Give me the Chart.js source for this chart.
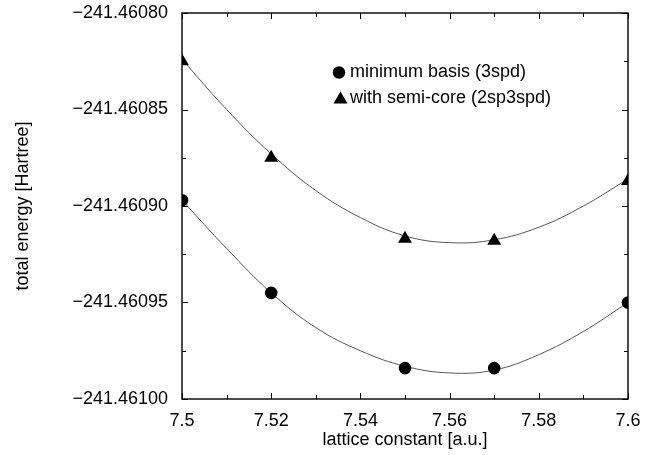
<!DOCTYPE html>
<html lang="en">
<head>
  <meta charset="UTF-8">
  <title>total energy vs lattice constant</title>
  <script src="https://cdn.jsdelivr.net/npm/chart.js"></script>
  <style>
    body { margin: 0; background: #fff; }
    #wrap { width: 665px; height: 455px; }
  </style>
</head>
<body>
  <div id="wrap"><canvas id="chart" width="665" height="455"></canvas></div>

  <script>
    // lattice constants of the calculated points
    const latticeX = [7.5, 7.52, 7.55, 7.57, 7.6];
    const minimumBasis = [-241.460897, -241.460945, -241.460984, -241.460984, -241.460950];
    const semiCore = [-241.460825, -241.460875, -241.460917, -241.460918, -241.460887];

    // fitted curves
    const fitX = [7.5, 7.51, 7.52, 7.53, 7.54, 7.55, 7.56, 7.57, 7.58, 7.59, 7.6];
    const fitMinimum = [-241.460897, -241.460922, -241.460945, -241.460963, -241.460975, -241.460983,
                        -241.4609865, -241.460985, -241.460977, -241.460965, -241.460950];
    const fitSemiCore = [-241.460824, -241.460850, -241.460873, -241.460892, -241.460906, -241.4609155,
                         -241.460919, -241.4609175, -241.460911, -241.460900, -241.460886];

    const legendLabels = ['minimum basis (3spd)', 'with semi-core (2sp3spd)'];
    const xTitle = 'lattice constant [a.u.]';
    const yTitle = 'total energy [Hartree]';

    const FONT = 'Liberation Sans, Arial, Helvetica, sans-serif';
    const pts = (xs, ys) => xs.map((x, i) => ({ x: x, y: ys[i] }));

    // border box and inward ticks on all four sides
    const frame = {
      id: 'frame',
      afterDatasetsDraw(chart) {
        const { ctx, chartArea: a, scales } = chart;
        ctx.save();
        ctx.strokeStyle = '#000';
        ctx.lineWidth = 1;
        const drawTicks = (scale, horiz) => {
          const vals = scale.ticks.map(t => t.value);
          const all = [];
          vals.forEach((v, i) => {
            all.push([v, 6]);
            if (i < vals.length - 1) all.push([(v + vals[i + 1]) / 2, 4]);
          });
          all.forEach(([v, len]) => {
            const p = Math.round(scale.getPixelForValue(v)) + 0.5;
            ctx.beginPath();
            if (horiz) {
              ctx.moveTo(p, a.bottom); ctx.lineTo(p, a.bottom - len);
              ctx.moveTo(p, a.top); ctx.lineTo(p, a.top + len);
            } else {
              ctx.moveTo(a.left, p); ctx.lineTo(a.left + len, p);
              ctx.moveTo(a.right, p); ctx.lineTo(a.right - len, p);
            }
            ctx.stroke();
          });
        };
        drawTicks(scales.x, true);
        drawTicks(scales.y, false);
        ctx.lineWidth = 1.4;
        ctx.strokeRect(a.left, a.top, a.right - a.left, a.bottom - a.top);

        // legend inside the plot
        ctx.fillStyle = '#000';
        ctx.font = '18px ' + FONT;
        ctx.textBaseline = 'middle';
        ctx.beginPath();
        ctx.arc(339, 72.5, 6.2, 0, Math.PI * 2);
        ctx.fill();
        ctx.fillText(legendLabels[0], 350, 72.5);
        ctx.beginPath();
        ctx.moveTo(340.5, 91.5); ctx.lineTo(347.5, 103.5); ctx.lineTo(333.5, 103.5);
        ctx.closePath();
        ctx.fill();
        ctx.fillText(legendLabels[1], 350, 98);
        ctx.restore();
      }
    };

    new Chart(document.getElementById('chart').getContext('2d'), {
      type: 'scatter',
      data: {
        datasets: [
          {
            data: pts(latticeX, minimumBasis),
            pointStyle: 'circle', pointRadius: 6.3, pointBorderWidth: 0,
            pointBackgroundColor: '#000', showLine: false
          },
          {
            data: pts(latticeX, semiCore),
            pointStyle: 'triangle', pointRadius: 8, pointBorderWidth: 0,
            pointBackgroundColor: '#000', showLine: false
          },
          {
            data: pts(fitX, fitMinimum),
            showLine: true, pointRadius: 0, borderColor: '#555', borderWidth: 1, tension: 0.4
          },
          {
            data: pts(fitX, fitSemiCore),
            showLine: true, pointRadius: 0, borderColor: '#555', borderWidth: 1, tension: 0.4
          }
        ]
      },
      options: {
        responsive: false,
        animation: false,
        layout: { padding: { left: 0, right: 37, top: 13, bottom: 0 } },
        scales: {
          x: {
            type: 'linear', min: 7.5, max: 7.6,
            grid: { display: false }, border: { display: false },
            ticks: {
              stepSize: 0.02, padding: 3, color: '#000',
              font: { family: FONT, size: 18 },
              callback: v => String(+v.toFixed(2))
            },
            title: { display: true, text: xTitle, color: '#000', font: { family: FONT, size: 18 }, padding: { top: 4, bottom: 4 } },
            afterFit: s => { s.height = 56; s.paddingLeft = 0; s.paddingRight = 0; }
          },
          y: {
            type: 'linear', min: -241.461, max: -241.4608,
            grid: { display: false }, border: { display: false },
            ticks: {
              stepSize: 0.00005, padding: 6, color: '#000',
              font: { family: FONT, size: 18 },
              callback: v => '\u2212' + Math.abs(v).toFixed(5)
            },
            title: { display: true, text: yTitle, color: '#000', font: { family: FONT, size: 18 }, padding: { top: 12, bottom: 0 } },
            afterFit: s => { s.width = 182; s.paddingTop = 0; s.paddingBottom = 0; }
          }
        },
        plugins: { legend: { display: false }, tooltip: { enabled: false } }
      },
      plugins: [frame]
    });
  </script>
</body>
</html>
